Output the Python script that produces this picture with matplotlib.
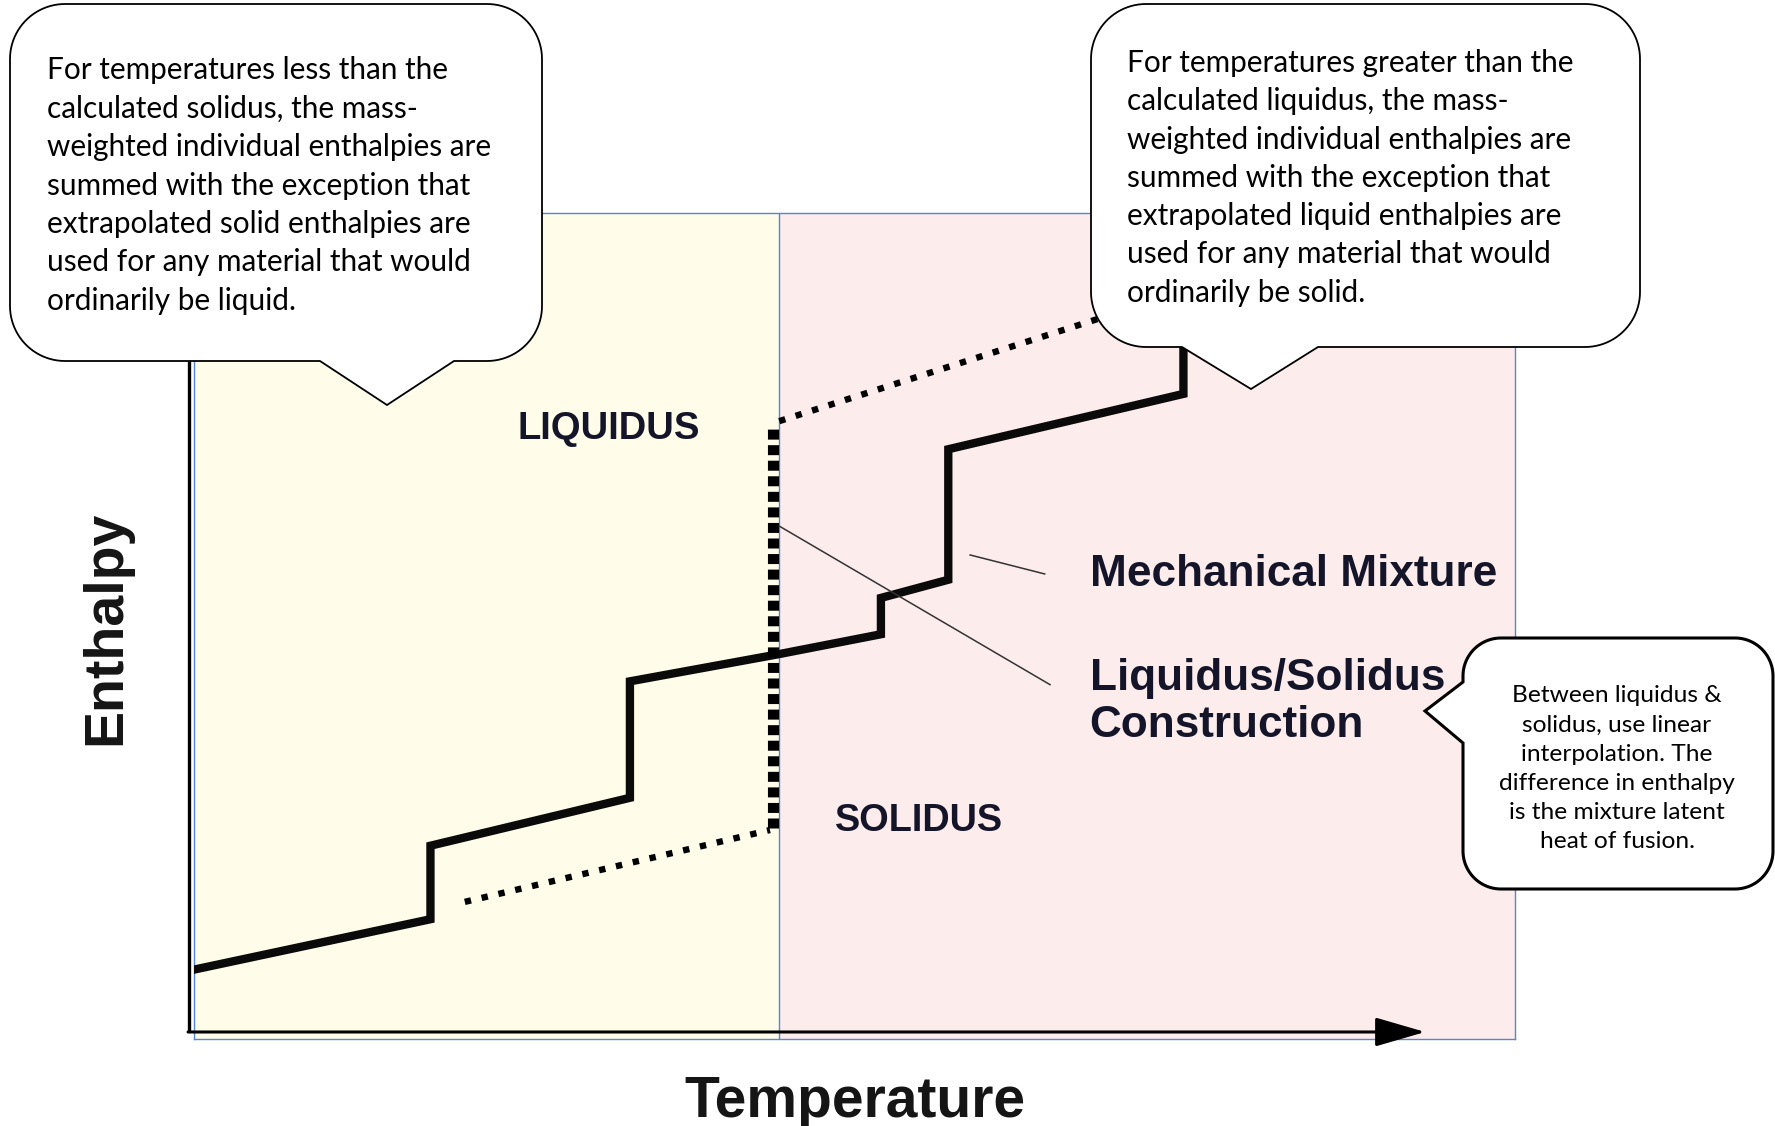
import matplotlib
matplotlib.use('Agg')
import matplotlib.pyplot as plt
import numpy as np
from matplotlib.path import Path
from matplotlib.patches import PathPatch

# ---------------- data (Temperature / Enthalpy in arbitrary % of frame) -------------
mix_T = [0.0, 17.9, 17.9, 33.0, 33.0, 44.3, 52.0, 52.0, 57.1, 57.1, 74.9, 74.9]
mix_H = [8.4, 14.5, 23.4, 29.2, 43.3, 46.6, 49.0, 53.4, 55.6, 71.4, 78.1, 88.0]
solid_ext_T = [20.5, 43.6]
solid_ext_H = [16.6, 25.3]
jump_T = [43.85, 43.85]
jump_H = [25.5, 74.2]
liquid_ext_T = [44.3, 71.0]
liquid_ext_H = [74.8, 88.5]
boundary_T = 44.27
lead_mix_T = [58.75, 64.4]
lead_mix_H = [58.6, 56.3]
lead_ls_T = [44.3, 64.8]
lead_ls_H = [62.1, 42.9]

left_note = ["For temperatures less than the",
             "calculated solidus, the mass-",
             "weighted individual enthalpies are",
             "summed with the exception that",
             "extrapolated solid enthalpies are",
             "used for any material that would",
             "ordinarily be liquid."]
right_note = ["For temperatures greater than the",
              "calculated liquidus, the mass-",
              "weighted individual enthalpies are",
              "summed with the exception that",
              "extrapolated liquid enthalpies are",
              "used for any material that would",
              "ordinarily be solid."]
small_note = ["Between liquidus &",
              "solidus, use linear",
              "interpolation. The",
              "difference in enthalpy",
              "is the mixture latent",
              "heat of fusion."]

W, H = 1775, 1126
fig = plt.figure(figsize=(W / 100, H / 100), dpi=100)
fig.patch.set_facecolor('white')

# main frame (blue rectangle)
L, R, T, B = 194, 1515, 213, 1039
ax = fig.add_axes([L / W, 1 - B / H, (R - L) / W, (B - T) / H])
ax.set_xlim(0, 100)
ax.set_ylim(0, 100)
ax.set_xticks([])
ax.set_yticks([])
blue = '#5585d6'
for s in ax.spines.values():
    s.set_color(blue)
    s.set_linewidth(1.0)
ax.axvspan(0, boundary_T, color='#fffde9', zorder=0, lw=0)
ax.axvspan(boundary_T, 100, color='#fdecec', zorder=0, lw=0)
ax.axvline(boundary_T, color=blue, lw=1.0, zorder=1)

# black axes with arrow
x_axis_H = 0.85
y_axis_T = -0.35
ax.plot([y_axis_T, y_axis_T], [x_axis_H, 95], color='black', lw=2.4, clip_on=False, zorder=4,
        solid_capstyle='butt')
ax.annotate('', xy=(93.2, x_axis_H), xytext=(y_axis_T - 0.1, x_axis_H),
            arrowprops=dict(arrowstyle='-|>,head_length=3.1,head_width=0.9', lw=2.2,
                            color='black', shrinkA=0, shrinkB=0, mutation_scale=10),
            annotation_clip=False, zorder=4)

# curves
ax.plot(mix_T, mix_H, color='#0a0a0a', lw=6.0, solid_joinstyle='miter', zorder=3)
ax.plot(solid_ext_T, solid_ext_H, color='black', lw=4.6, linestyle=(0, (1.0, 1.7)), zorder=3,
        dash_capstyle='butt')
ax.plot(liquid_ext_T, liquid_ext_H, color='black', lw=4.6, linestyle=(0, (1.0, 1.7)), zorder=3,
        dash_capstyle='butt')
ax.plot(jump_T, jump_H, color='black', lw=8.0, linestyle=(0, (0.9, 0.5)), zorder=3,
        dash_capstyle='butt')
ax.plot(lead_mix_T, lead_mix_H, color='#333333', lw=1.1, zorder=3)
ax.plot(lead_ls_T, lead_ls_H, color='#333333', lw=1.1, zorder=3)

lab = dict(family='Liberation Sans', weight='bold', color='#15152a')
ax.text(31.4, 73.8, 'LIQUIDUS', fontsize=27.5, ha='center', va='center', **lab)
ax.text(54.9, 26.4, 'SOLIDUS', fontsize=27.3, ha='center', va='center', **lab)
ax.text(67.8, 56.2, 'Mechanical Mixture', fontsize=31.8, ha='left', va='center', **lab)
ax.text(67.8, 43.7, 'Liquidus/Solidus', fontsize=31.8, ha='left', va='center', **lab)
ax.text(67.8, 37.9, 'Construction', fontsize=31.8, ha='left', va='center', **lab)

# overlay in pixel coordinates for callouts and axis titles
ov = fig.add_axes([0, 0, 1, 1], zorder=10)
ov.set_xlim(0, W)
ov.set_ylim(H, 0)
ov.axis('off')
ov.patch.set_alpha(0)

ov.text(106, 628, 'Enthalpy', rotation=90, fontsize=40, ha='center', va='center',
        family='Liberation Sans', weight='bold', color='#151515')
ov.text(855, 1117, 'Temperature', fontsize=41, ha='center', va='baseline',
        family='Liberation Sans', weight='bold', color='#151515')


def callout(x0, y0, x1, y1, r, bottom_ptr=None, left_ptr=None, lw=1.3):
    pts = []

    def arc(cx, cy, a0, a1):
        t = np.radians(np.linspace(a0, a1, 24))
        return list(zip(cx + r * np.cos(t), cy + r * np.sin(t)))
    pts += arc(x0 + r, y0 + r, 180, 270)
    pts += arc(x1 - r, y0 + r, 270, 360)
    pts += arc(x1 - r, y1 - r, 0, 90)
    if bottom_ptr:
        bx1, bx2, tx, ty = bottom_ptr
        pts += [(bx2, y1), (tx, ty), (bx1, y1)]
    pts += arc(x0 + r, y1 - r, 90, 180)
    if left_ptr:
        by1, by2, tx, ty = left_ptr
        pts += [(x0, by2), (tx, ty), (x0, by1)]
    pts.append(pts[0])
    codes = [Path.MOVETO] + [Path.LINETO] * (len(pts) - 2) + [Path.CLOSEPOLY]
    ov.add_patch(PathPatch(Path(pts, codes), facecolor='white', edgecolor='black', lw=lw,
                           joinstyle='miter'))


callout(10, 4, 542, 361, 55, bottom_ptr=(320, 454, 387, 405), lw=1.3)
callout(1091, 4, 1640, 347, 55, bottom_ptr=(1182, 1318, 1251, 389), lw=1.3)
callout(1463, 638, 1773, 889, 38, left_ptr=(682, 743, 1425, 711), lw=2.2)

FONT = ['Lato', 'DejaVu Sans']


def note(lines, x, y0, dy, ha, idx, target_w, size0):
    ts = [ov.text(x, y0 + i * dy, s, fontsize=size0, ha=ha, va='center', family=FONT,
                  color='black') for i, s in enumerate(lines)]
    fig.canvas.draw()
    r = fig.canvas.get_renderer()
    w = ts[idx].get_window_extent(r).width
    s = size0 * target_w / w
    for t in ts:
        t.set_fontsize(s)


note(left_note, 47, 70, 38.5, 'left', 2, 445, 19)
note(right_note, 1127, 63, 38.3, 'left', 0, 447, 19)
note(small_note, 1617, 696, 29.1, 'center', 3, 236, 14)

fig.savefig('out.png', dpi=100)
